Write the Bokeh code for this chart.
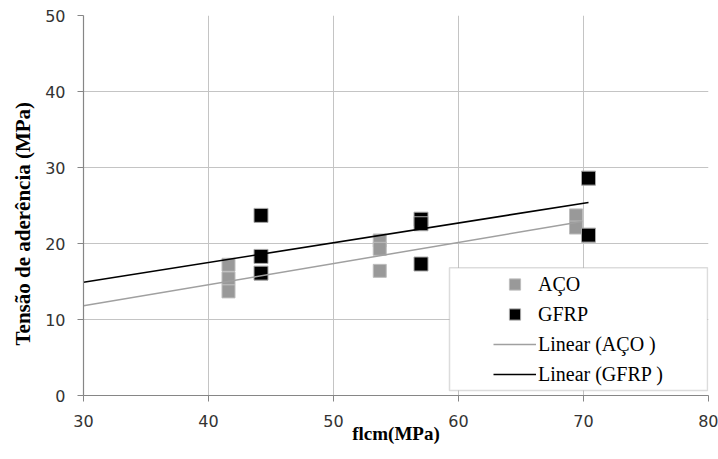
from bokeh.plotting import figure
from bokeh.models import (Legend, LegendItem, BoxAnnotation, Range1d,
                          FixedTicker, Title)
from bokeh.embed import file_html
from bokeh.resources import INLINE
import numpy as np

# Bond stress vs. concrete strength
aco_x = [41.6, 41.6, 41.6, 53.7, 53.7, 53.7, 69.4, 69.4]
aco_y = [17.2, 15.4, 13.7, 20.4, 19.3, 16.4, 23.7, 22.1]
gfrp_x = [44.2, 44.2, 44.2, 57.0, 57.0, 57.0, 70.4, 70.4]
gfrp_y = [23.7, 18.3, 16.1, 23.2, 22.6, 17.3, 28.6, 21.1]

# Linear trend lines: slope, intercept, and x extent
aco_fit = [0.278, 3.46]
gfrp_fit = [0.26, 7.1]
aco_trend_range = [30, 69.9]
gfrp_trend_range = [30, 70.4]

x_ticks = [30, 40, 50, 60, 70, 80]
y_ticks = [0, 10, 20, 30, 40, 50]
x_title = "flcm(MPa)"
y_title = "Tensão de aderência (MPa)"

p = figure(frame_width=625, frame_height=380,
           x_range=Range1d(30, 80), y_range=Range1d(0, 50),
           output_backend="svg", toolbar_location=None,
           min_border_left=83, min_border_right=10,
           min_border_top=15, min_border_bottom=64)
p.outline_line_color = None
p.background_fill_color = "white"
p.border_fill_color = "white"

p.xaxis.ticker = FixedTicker(ticks=x_ticks)
p.yaxis.ticker = FixedTicker(ticks=y_ticks)
for g in (p.xgrid, p.ygrid):
    g.grid_line_color = "#c4c4c4"
    g.grid_line_width = 1

for ax in (p.xaxis, p.yaxis):
    ax.axis_line_color = "#868686"
    ax.axis_line_width = 1.2
    ax.major_tick_line_color = "#868686"
    ax.major_tick_out = 6
    ax.major_tick_in = 0
    ax.minor_tick_line_color = None
    ax.major_label_text_font = "DejaVu Sans"
    ax.major_label_text_font_size = "16px"
    ax.major_label_text_color = "#333333"
    ax.axis_label_text_font = "Liberation Serif"
    ax.axis_label_text_font_style = "bold"
    ax.axis_label_text_color = "black"

p.xaxis.major_label_standoff = 13
p.yaxis.major_label_standoff = 12
p.xaxis.axis_label = x_title
p.xaxis.axis_label_text_font_size = "19px"
p.xaxis.axis_label_standoff = -7

# Vertical title, starting a fixed distance above the frame's bottom edge
p.add_layout(Title(text=y_title, align="left", offset=50, standoff=15,
                   text_font="Liberation Serif", text_font_style="bold",
                   text_font_size="21px", text_color="black"), "left")

r_aco = p.scatter(aco_x, aco_y, marker="square", size=13,
                  fill_color="#999999", line_color="#bdbdbd", line_width=1)
r_gfrp = p.scatter(gfrp_x, gfrp_y, marker="square", size=14,
                   fill_color="black", line_color="#a8a8a8", line_width=1)

ax_line = np.array(aco_trend_range)
gx_line = np.array(gfrp_trend_range)
r_aco_lin = p.line(ax_line, aco_fit[0] * ax_line + aco_fit[1],
                   line_color="#a0a0a0", line_width=1.5)
r_gfrp_lin = p.line(gx_line, gfrp_fit[0] * gx_line + gfrp_fit[1],
                    line_color="black", line_width=1.6)

# Legend frame
box = BoxAnnotation(left=59.28, right=79.92, bottom=0.66, top=16.8,
                    fill_color="white", fill_alpha=1,
                    line_color="#8c8c8c", line_width=1.5)
p.add_layout(box)

legend = Legend(items=[
    LegendItem(label="AÇO", renderers=[r_aco]),
    LegendItem(label="GFRP", renderers=[r_gfrp]),
    LegendItem(label="Linear (AÇO )", renderers=[r_aco_lin]),
    LegendItem(label="Linear (GFRP )", renderers=[r_gfrp_lin]),
], location=(410, 7), padding=0, margin=0,
    border_line_color=None, background_fill_alpha=0,
    glyph_width=43, glyph_height=28, spacing=2, label_standoff=2,
    label_text_font="Liberation Serif", label_text_font_size="20px",
    label_text_color="black")
p.add_layout(legend, "center")

open("out.html", "w").write(file_html(p, INLINE))
